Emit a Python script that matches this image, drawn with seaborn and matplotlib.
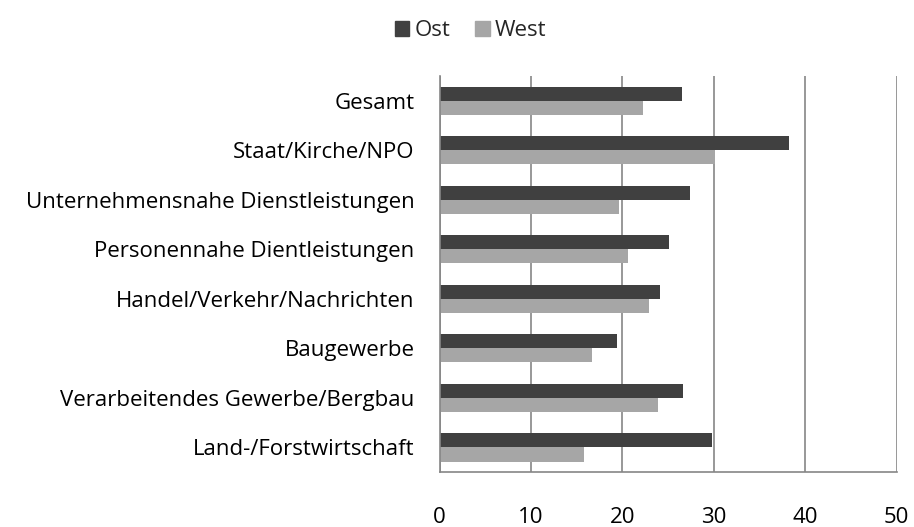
import pandas as pd
import matplotlib.pyplot as plt
from matplotlib.ticker import FixedLocator
from matplotlib.patches import Patch
import seaborn as sns

categories = ['Gesamt', 'Staat/Kirche/NPO', 'Unternehmensnahe Dienstleistungen',
              'Personennahe Dientleistungen', 'Handel/Verkehr/Nachrichten',
              'Baugewerbe', 'Verarbeitendes Gewerbe/Bergbau', 'Land-/Forstwirtschaft']
ost = [26.5, 38.2, 27.4, 25.1, 24.1, 19.4, 26.6, 29.8]
west = [22.2, 30.1, 19.6, 20.6, 22.9, 16.7, 23.9, 15.8]

df = pd.DataFrame({
    'Bereich': categories * 2,
    'Wert': ost + west,
    'Region': ['Ost'] * len(categories) + ['West'] * len(categories),
})

sns.set_style('white')
plt.rcParams['font.family'] = ['Open Sans', 'DejaVu Sans']

colors = {'Ost': '#404040', 'West': '#a6a6a6'}
grid_col = '#868686'
fs = 16

fig = plt.figure(figsize=(9.14, 5.27), dpi=100)
ax = fig.add_axes([0.481, 0.104, 0.5, 0.752])

sns.barplot(data=df, x='Wert', y='Bereich', hue='Region', order=categories,
            palette=colors, orient='h', width=0.57, saturation=1,
            linewidth=0, legend=False, ax=ax)

ax.set_xlim(0, 50)
ax.set_ylim(len(categories) - 0.5, -0.5)
ax.set_xticks(range(0, 51, 10))
ax.xaxis.grid(True, color=grid_col, linewidth=1.2)
ax.set_axisbelow(True)
ax.set_xlabel('')
ax.set_ylabel('')

for s in ['top', 'right']:
    ax.spines[s].set_visible(False)
for s in ['left', 'bottom']:
    ax.spines[s].set_color(grid_col)
    ax.spines[s].set_linewidth(1.2)

ax.tick_params(axis='x', length=8, width=1.2, color=grid_col, labelsize=fs,
               pad=17, labelcolor='black')
ax.tick_params(axis='y', which='major', length=0, labelsize=fs, pad=18,
               labelcolor='black')
ax.yaxis.set_minor_locator(FixedLocator([i - 0.5 for i in range(len(categories) + 1)]))
ax.tick_params(axis='y', which='minor', length=8, width=1.2, color=grid_col)

handles = [Patch(color=colors['Ost'], label='Ost'),
           Patch(color=colors['West'], label='West')]
fig.legend(handles=handles, loc='upper center', bbox_to_anchor=(0.515, 1.0),
           ncol=2, frameon=False, fontsize=fs, handlelength=0.65, handleheight=0.65,
           handletextpad=0.25, columnspacing=1.1)

fig.savefig('out.png', dpi=100)
